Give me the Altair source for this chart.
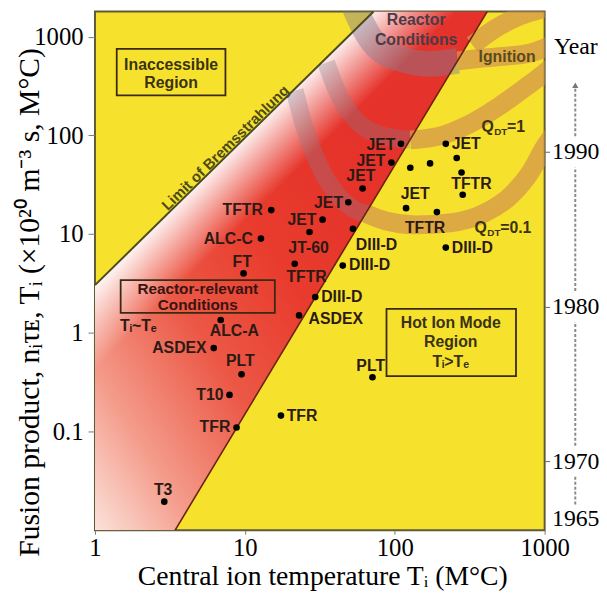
import math
import altair as alt
import pandas as pd

# ---------------- data ----------------
X_DOM = [1, 1000]
Y_DOM = [0.01, 1800]
YEAR_DOM = [1965.53, 1999.07]

# experiment points (T_i, n tau T)
dot_T = [15, 12.8, 9.8, 33, 49, 27, 21.5, 45, 29.5, 23, 6.9, 6.2, 9.5, 7.9, 8.8,
         2.9, 17.4, 71, 110, 95, 61, 52.6, 219, 127, 172, 259, 279, 284, 119, 191, 219]
dot_P = [17.5, 9.0, 4.0, 14, 21, 10.5, 5.0, 4.8, 2.3, 1.5, 1.35, 0.7, 0.38, 0.235, 0.11,
         0.0195, 0.145, 0.355, 82, 53, 29, 11.3, 82, 47, 52, 59, 42, 25, 18.3, 16.7, 7.3]

# labels ending at their anchor (left of a dot)
lab_r_text = ["TFTR", "ALC-C", "JET", "JET", "ASDEX", "T10", "TFR", "JET", "JET"]
lab_r_T = [13.2, 11.3, 30.0, 45.2, 5.56, 7.2, 8.0, 101, 86.8]
lab_r_P = [17.5, 8.97, 13.9, 20.6, 0.695, 0.235, 0.110, 80.1, 55.4]
# labels starting at their anchor (right of a dot)
lab_l_text = ["DIII-D", "DIII-D", "ASDEX", "TFR", "JET", "DIII-D", "DIII-D"]
lab_l_T = [49.5, 32.3, 26.6, 19.0, 240, 240, 55.0]
lab_l_P = [4.82, 2.30, 1.39, 0.145, 82.0, 7.29, 7.81]
# labels centred on their anchor
lab_c_text = ["Tᵢ~Tₑ", "FT", "JT-60", "TFTR", "ALC-A", "PLT", "T3", "PLT", "JET", "TFTR", "JET", "TFTR"]
lab_c_T = [1.95, 9.6, 26.6, 25.8, 8.5, 9.32, 2.85, 69.1, 59.4, 325, 136.8, 159.3]
lab_c_P = [1.18, 5.16, 7.29, 3.65, 1.03, 0.515, 0.0257, 0.459, 38.3, 31.9, 25.3, 11.6]

# boundary lines
brems_T = [1, 72.3]
brems_P = [3.04, 1800]
tite_T = [3.42, 414.5]
tite_P = [0.01, 1800]

# Q bands (centre lines)
q01_red_T = [21.5, 25.0, 30.9, 40.6, 53.4, 65.0]
q01_red_P = [285, 121, 51.7, 25.9, 17.9, 16.0]
q01_tan_T = [65.0, 86.8, 136.8, 233, 396, 606, 808, 1000, 1240]
q01_tan_P = [16.0, 13.6, 12.4, 13.0, 16.3, 25.3, 43.0, 76.5, 121]
q1_red_T = [34.9, 42.5, 55.0, 80.4, 127]
q1_red_P = [543, 254, 143, 101, 90]
q1_tan_T = [127, 200, 315, 497, 727, 1000, 1240]
q1_tan_P = [90, 98.6, 130, 197, 298, 431, 568]
ign_red_T = [53.4, 60.3, 74.6, 109, 172, 263]
ign_red_P = [2070, 1365, 822, 595, 530, 568]
ign_tan_T = [263, 396, 579, 808, 1000, 1240]
ign_tan_P = [568, 609, 638, 684, 767, 900]
top_tan_T = [330, 461, 674, 1000]
top_tan_P = [822, 1189, 1604, 1929]

# boxes
box_text = ["Inaccessible\nRegion", "Reactor-relevant\nConditions", "Hot Ion Mode\nRegion\nTᵢ>Tₑ"]
box_T1 = [1.397, 1.484, 88.1]
box_T2 = [7.42, 15.85, 644]
box_P1 = [749.7, 3.41, 1.747]
box_P2 = [253.7, 1.593, 0.364]
box_cT = [3.22, 4.85, 236.4]
box_cP = [518.5, 2.77, 1.265]     # first text line of each box

# year axis
year_ticks = [1966.3, 1970, 1980, 1990]
year_seg0 = [1991.0, 1981.0, 1971.0, 1967.2]
year_seg1 = [1994.1, 1989.0, 1979.0, 1969.0]
year_arrow = [1994.3]

# ---------------- helpers ----------------
def loginterp(t, Ts, Ps):
    a, b = math.log10(Ts[0]), math.log10(Ts[1])
    la, lb = math.log10(Ps[0]), math.log10(Ps[1])
    return 10 ** (la + (math.log10(t) - a) * (lb - la) / (b - a))

SERIF = "Liberation Serif"
SANS = "Liberation Sans"
LABEL_SIZE = 16

xs = alt.Scale(type="log", domain=X_DOM, nice=False)
ys = alt.Scale(type="log", domain=Y_DOM, nice=False)
yrs = alt.Scale(type="linear", domain=YEAR_DOM, nice=False, zero=False)

xaxis = alt.Axis(values=[1, 10, 100, 1000], format="~g", grid=False, domain=False,
                 tickSize=4, tickColor="#777777", labelPadding=2, labelFlush=False,
                 labelFont=SERIF, labelFontSize=25, labelColor="black",
                 title="Central ion temperature Tᵢ (M°C)", titleFont=SERIF, titleFontSize=28,
                 titleFontWeight="normal", titleColor="black", titleX=230, titleY=47,
                 titleAlign="center", titleBaseline="middle")
yaxis = alt.Axis(values=[0.1, 1, 10, 100, 1000], format="~g", grid=False, domain=False,
                 tickSize=7, tickColor="#777777", labelPadding=5, labelFlush=False,
                 labelFont=SERIF, labelFontSize=25, labelColor="black",
                 title="Fusion product, nᵢτᴇ, Tᵢ (×10²⁰ m⁻³ s, M°C)", titleFont=SERIF,
                 titleFontSize=30, titleFontWeight="normal", titleColor="black",
                 titleAngle=270, titleX=-66, titleY=294, titleAlign="center",
                 titleBaseline="middle")
year_axis = alt.Axis(orient="right", values=year_ticks, format="d",
                     labelExpr="datum.value < 1967 ? '1965' : datum.label",
                     grid=False, domain=False, tickSize=5,
                     tickColor={"condition": {"test": "datum.value < 1967", "value": "transparent"},
                                "value": "#666666"},
                     labelPadding=2, labelFont=SERIF, labelFontSize=24, labelColor="black",
                     title="Year", titleFont=SERIF, titleFontSize=24, titleFontWeight="normal",
                     titleColor="black", titleAngle=0, titleX=31, titleY=36,
                     titleAlign="center", titleBaseline="middle")


def X(f="T"):
    return alt.X(f, type="quantitative", scale=xs, axis=xaxis)


def Y(f="P"):
    return alt.Y(f, type="quantitative", scale=ys, axis=yaxis)


# ---------------- red region ----------------
area_T = [brems_T[0], tite_T[0], brems_T[1], tite_T[1]]
area_up = [brems_P[0], loginterp(tite_T[0], brems_T, brems_P), Y_DOM[1], Y_DOM[1]]
area_lo = [Y_DOM[0], Y_DOM[0], loginterp(brems_T[1], tite_T, tite_P), Y_DOM[1]]
area_df = pd.DataFrame({"T": area_T, "P": area_up, "P2": area_lo})

red_grad = alt.Gradient(
    gradient="linear",
    stops=[alt.GradientStop(color="#fbe2da", offset=0),
           alt.GradientStop(color="#f49c8b", offset=0.2),
           alt.GradientStop(color="#ec5846", offset=0.45),
           alt.GradientStop(color="#e83b2d", offset=0.7),
           alt.GradientStop(color="#e5322a", offset=1)],
    x1=0, y1=1, x2=0.75, y2=0.35)
glow_grad = alt.Gradient(
    gradient="linear",
    stops=[alt.GradientStop(color="rgba(255,255,255,0.92)", offset=0),
           alt.GradientStop(color="rgba(255,255,255,0.5)", offset=0.45),
           alt.GradientStop(color="rgba(255,255,255,0)", offset=1)],
    x1=0.355, y1=0.264, x2=0.432, y2=0.367)

red_area = alt.Chart(area_df).mark_area(color=red_grad, clip=True).encode(
    x=X(), y=Y(), y2="P2")
glow_area = alt.Chart(area_df).mark_area(color=glow_grad, clip=True).encode(
    x=X(), y=Y(), y2="P2")

# ---------------- bands ----------------
def band_df(parts):
    rows = []
    for name, Ts, Ps in parts:
        for t, p in zip(Ts, Ps):
            rows.append({"band": name, "T": t, "P": p})
    return pd.DataFrame(rows)

gray_df = band_df([("q01", q01_red_T, q01_red_P), ("q1", q1_red_T, q1_red_P)])
gray_ign_df = band_df([("ign", ign_red_T, ign_red_P)])
tan_df = band_df([("q01", q01_tan_T, q01_tan_P), ("q1", q1_tan_T, q1_tan_P),
                  ("ign", ign_tan_T, ign_tan_P), ("top", top_tan_T, top_tan_P)])

gray_bands = alt.Chart(gray_df).mark_line(
    color="#857c90", opacity=0.32, strokeWidth=18, strokeCap="butt",
    interpolate="monotone", clip=True).encode(x=X(), y=Y(), detail="band:N")
gray_ign = alt.Chart(gray_ign_df).mark_line(
    color="#857c90", opacity=0.45, strokeWidth=26, strokeCap="butt",
    interpolate="monotone", clip=True).encode(x=X(), y=Y(), detail="band:N")
tan_bands = alt.Chart(tan_df).mark_line(
    color="#d4964a", opacity=0.75, strokeWidth=19, strokeCap="butt",
    interpolate="monotone", clip=True).encode(x=X(), y=Y(), detail="band:N")

# ---------------- boundary lines ----------------
brems_line = alt.Chart(pd.DataFrame({"T": brems_T, "P": brems_P})).mark_line(
    color="#4d4a1c", strokeWidth=2, clip=True).encode(x=X(), y=Y())
tite_line = alt.Chart(pd.DataFrame({"T": tite_T, "P": tite_P})).mark_line(
    color="#6a2012", strokeWidth=1.6, clip=True).encode(x=X(), y=Y())

# ---------------- boxes ----------------
box_df = pd.DataFrame({"T": box_T1, "T2": box_T2, "P": box_P1, "P2": box_P2})
boxes = alt.Chart(box_df).mark_rect(fillOpacity=0, stroke="#3a2a12", strokeWidth=1.8).encode(
    x=X(), x2="T2", y=Y(), y2="P2")

def box_label(i, lh, color, size=LABEL_SIZE):
    d = pd.DataFrame({"T": [box_cT[i]], "P": [box_cP[i]], "txt": [box_text[i]]})
    return alt.Chart(d).mark_text(font=SANS, fontWeight="bold", fontSize=size, color=color,
                                  align="center", baseline="middle", lineBreak="\n",
                                  lineHeight=lh).encode(x=X(), y=Y(), text="txt:N")

box_texts = [box_label(0, 18, "#3a3212"), box_label(1, 16, "#3a1410", 15.5),
             box_label(2, 20, "#3a3212")]

# ---------------- dots and labels ----------------
dots = alt.Chart(pd.DataFrame({"T": dot_T, "P": dot_P})).mark_circle(
    size=45, color="black", opacity=1).encode(x=X(), y=Y())

def labels(texts, Ts, Ps, align):
    d = pd.DataFrame({"T": Ts, "P": Ps, "txt": texts})
    return alt.Chart(d).mark_text(font=SANS, fontWeight="bold", fontSize=LABEL_SIZE,
                                  color="#2c1a14", align=align, baseline="middle").encode(
        x=X(), y=Y(), text="txt:N")

lab_r = labels(lab_r_text, lab_r_T, lab_r_P, "right")
lab_l = labels(lab_l_text, lab_l_T, lab_l_P, "left")
lab_c = labels(lab_c_text, lab_c_T, lab_c_P, "center")

# ---------------- region annotations ----------------
ann_df = pd.DataFrame({"T": [138.9, 561.6], "P": [1463, 623],
                       "txt": ["Reactor\nConditions", "Ignition"]})
ann_rc = alt.Chart(ann_df.iloc[[0]]).mark_text(
    font=SANS, fontWeight="bold", fontSize=LABEL_SIZE, color="#4b3a48", align="center",
    baseline="middle", lineBreak="\n", lineHeight=20).encode(x=X(), y=Y(), text="txt:N")
ann_ign = alt.Chart(ann_df.iloc[[1]]).mark_text(
    font=SANS, fontWeight="bold", fontSize=LABEL_SIZE, color="#5a4a20", align="center",
    baseline="middle").encode(x=X(), y=Y(), text="txt:N")

limit_df = pd.DataFrame({"T": [7.42], "P": [74.8], "txt": ["Limit of Bremsstrahlung"]})
limit_txt = alt.Chart(limit_df).mark_text(
    font=SANS, fontWeight="bold", fontSize=15, color="#4d4a1c", align="center",
    baseline="middle", angle=315.5).encode(x=X(), y=Y(), text="txt:N")

q_df = pd.DataFrame({"T": [378.4, 340.2], "P": [121.4, 11.6],
                     "q": ["Q", "Q"], "sub": ["DT", "DT"], "rest": ["=1", "=0.1"]})
q_main = alt.Chart(q_df).mark_text(font=SANS, fontWeight="bold", fontSize=LABEL_SIZE,
                                   color="#3a3212", align="left", baseline="middle").encode(
    x=X(), y=Y(), text="q:N")
q_sub = alt.Chart(q_df).mark_text(font=SANS, fontWeight="bold", fontSize=10,
                                  color="#3a3212", align="left", baseline="middle",
                                  dx=13, dy=5).encode(x=X(), y=Y(), text="sub:N")
q_rest = alt.Chart(q_df).mark_text(font=SANS, fontWeight="bold", fontSize=LABEL_SIZE,
                                   color="#3a3212", align="left", baseline="middle",
                                   dx=26).encode(x=X(), y=Y(), text="rest:N")

main = alt.layer(red_area, glow_area, gray_bands, gray_ign, tan_bands, brems_line, tite_line,
                 boxes, dots, lab_r, lab_l, lab_c, *box_texts, ann_rc, ann_ign, limit_txt,
                 q_main, q_sub, q_rest)

# ---------------- year axis layer ----------------
seg_df = pd.DataFrame({"y0": year_seg0, "y1": year_seg1})
year_rule = alt.Chart(seg_df).mark_rule(color="#8a8a8a", strokeWidth=2, strokeDash=[3, 2]).encode(
    x=alt.value(486), y=alt.Y("y0:Q", scale=yrs, axis=year_axis), y2="y1:Q")
arrow = alt.Chart(pd.DataFrame({"y0": year_arrow})).mark_point(
    shape="triangle-up", filled=True, size=40, color="#777777", opacity=1).encode(
    x=alt.value(486), y=alt.Y("y0:Q", scale=yrs, axis=year_axis))
year_layer = alt.layer(year_rule, arrow)

chart = alt.layer(main, year_layer).resolve_scale(y="independent").properties(
    width=455, height=525,
    autosize=alt.AutoSizeParams(type="none"),
    padding={"left": 88, "top": 0, "right": 55, "bottom": 61},
    background="white",
).configure_view(fill="#f6e22c", stroke="#5e5a38", strokeWidth=2)

chart.save("out.html", embed_options={"renderer": "svg", "actions": False})
